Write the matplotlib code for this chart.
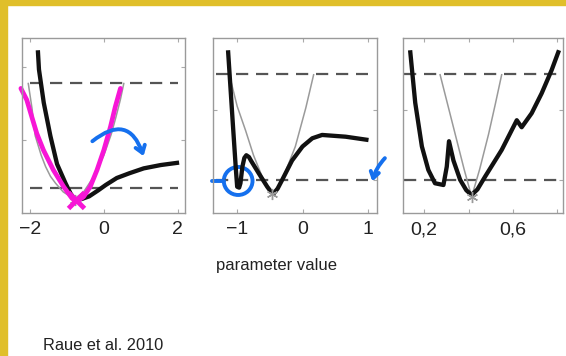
import matplotlib
matplotlib.use("Agg")
import matplotlib.pyplot as plt
from matplotlib.patches import Ellipse, Rectangle

plt.rcParams["font.family"] = ["Liberation Sans", "DejaVu Sans"]

# profile likelihood (black), parabolic approximation (gray), thresholds (dashed)
p1_prof_x = [-1.79, -1.76, -1.63, -1.45, -1.27, -1.04, -0.9, -0.78, -0.6, -0.4,
             -0.15, 0.05, 0.35, 0.69, 1.08, 1.54, 2.04]
p1_prof_y = [0.93, 0.82, 0.63, 0.44, 0.28, 0.17, 0.11, 0.075, 0.08, 0.095,
             0.13, 0.16, 0.2, 0.227, 0.255, 0.274, 0.288]
p1_appr_x = [-2.05, -1.95, -1.86, -1.7, -1.58, -1.45, -1.31, -1.1, -0.8, -0.55,
             -0.3, 0.0, 0.2, 0.33, 0.45, 0.54]
p1_appr_y = [0.74, 0.6, 0.44, 0.33, 0.265, 0.21, 0.17, 0.12, 0.08, 0.12,
             0.2, 0.33, 0.45, 0.55, 0.65, 0.74]

p2_prof_x = [-1.14, -1.07, -1.02, -1.0, -0.97, -0.95, -0.92, -0.89, -0.86, -0.82,
             -0.79, -0.67, -0.54, -0.48, -0.44, -0.38, -0.31, -0.16, 0.0, 0.15,
             0.30, 0.66, 1.01]
p2_prof_y = [0.93, 0.53, 0.25, 0.15, 0.145, 0.17, 0.265, 0.315, 0.33, 0.32,
             0.30, 0.227, 0.15, 0.12, 0.112, 0.14, 0.19, 0.30, 0.38, 0.427,
             0.446, 0.436, 0.417]
p2_appr_x = [-1.12, -1.0, -0.87, -0.75, -0.62, -0.46, -0.32, -0.11, 0.05, 0.17]
p2_appr_y = [0.79, 0.61, 0.47, 0.33, 0.21, 0.11, 0.18, 0.38, 0.6, 0.79]

p3_prof_x = [0.137, 0.16, 0.19, 0.219, 0.249, 0.287, 0.302, 0.312, 0.332, 0.362,
             0.39, 0.414, 0.44, 0.474, 0.549, 0.617, 0.639, 0.684, 0.729, 0.774,
             0.807]
p3_prof_y = [0.93, 0.63, 0.38, 0.246, 0.17, 0.16, 0.265, 0.41, 0.30, 0.19,
             0.13, 0.103, 0.135, 0.207, 0.36, 0.53, 0.49, 0.57, 0.684, 0.817,
             0.93]
p3_appr_x = [0.272, 0.30, 0.34, 0.38, 0.414, 0.45, 0.49, 0.52, 0.549]
p3_appr_y = [0.79, 0.65, 0.45, 0.25, 0.093, 0.25, 0.45, 0.62, 0.79]

best_fit = [(-0.78, 0.075), (-0.46, 0.11), (0.414, 0.093)]
thresholds = [(0.143, 0.743), (0.189, 0.794), (0.189, 0.794)]
scan_range = [(-2.0, 2.0), (-1.33, 1.0), (0.11, 0.8)]
xlims = [(-2.22, 2.2), (-1.37, 1.14), (0.105, 0.825)]
xticks = [[-2, 0, 2], [-1, 0, 1], [0.2, 0.4, 0.6, 0.8]]
xticklabels = [["\u22122", "0", "2"], ["\u22121", "0", "1"], ["0,2", "", "0,6", ""]]
yticks = [[0.417, 0.834], [0.19, 0.59], [0.19, 0.59]]

# hand-drawn annotations on the slide
pink_x = [-2.25, -2.09, -1.955, -1.82, -1.64, -1.37, -1.09, -0.865, -0.73,
          -0.55, -0.37, -0.185, 0.0, 0.18, 0.31, 0.45]
pink_y = [0.712, 0.646, 0.55, 0.455, 0.36, 0.246, 0.15, 0.084, 0.065,
          0.093, 0.15, 0.246, 0.36, 0.493, 0.607, 0.712]

BLUE = "#1570ee"
PINK = "#f716d6"
YELLOW = "#e0bf2a"

fig = plt.figure(figsize=(5.66, 3.56), dpi=100)
fig.patch.set_facecolor("white")

boxes = [(22, 163), (213, 164), (403, 160)]
profs = [(p1_prof_x, p1_prof_y), (p2_prof_x, p2_prof_y), (p3_prof_x, p3_prof_y)]
apprs = [(p1_appr_x, p1_appr_y), (p2_appr_x, p2_appr_y), (p3_appr_x, p3_appr_y)]

axes = []
for i in range(3):
    left, width = boxes[i]
    ax = fig.add_axes([left / 566, 1 - 213 / 356, width / 566, 175 / 356])
    axes.append(ax)
    lo, hi = thresholds[i]
    for th in (lo, hi):
        ax.hlines(th, *scan_range[i], colors="#555555", lw=1.6,
                  linestyles=(0, (5.5, 3.5)))
    ax.plot(*apprs[i], color="#9a9a9a", lw=1.1)
    ax.plot(*profs[i], color="#111111", lw=3.1, solid_joinstyle="round",
            solid_capstyle="butt")
    bx, by = best_fit[i]
    ax.plot(bx, by, marker=(6, 2, 0), ms=8, mew=1.0, color="#9a9a9a")
    ax.set_xlim(*xlims[i])
    ax.set_ylim(0, 1)
    ax.set_xticks(xticks[i])
    ax.set_xticklabels(xticklabels[i], fontsize=14, color="#222222")
    ax.set_yticks(yticks[i])
    ax.set_yticklabels([])
    ax.tick_params(direction="in", length=3, width=0.8, color="#aaaaaa",
                   top=True, right=True, pad=6)
    for s in ax.spines.values():
        s.set_color("#9a9a9a")
        s.set_linewidth(1.0)

# annotations, panel 1
ax1, ax2, ax3 = axes
ax1.plot(pink_x, pink_y, color=PINK, lw=3.4, solid_capstyle="round",
         solid_joinstyle="round", clip_on=False)
ax1.plot(-0.76, 0.075, marker="x", ms=12, mew=3.5, color=PINK, clip_on=False)
ax1.annotate("", xy=(1.1, 0.31), xytext=(-0.37, 0.40),
             arrowprops=dict(arrowstyle="->,head_length=0.5,head_width=0.35",
                             connectionstyle="arc3,rad=-0.75",
                             color=BLUE, lw=2.8, capstyle="round"))

# annotations, panel 2
ax2.add_patch(Ellipse((-0.985, 0.183), 0.44, 0.16, fill=False, ec=BLUE,
                      lw=2.8, clip_on=False))
ax2.plot([-1.38, -1.2], [0.182, 0.182], color=BLUE, lw=2.8,
         solid_capstyle="round", clip_on=False)
ax2.annotate("", xy=(1.06, 0.165), xytext=(1.29, 0.325),
             annotation_clip=False,
             arrowprops=dict(arrowstyle="->,head_length=0.45,head_width=0.3",
                             connectionstyle="arc3,rad=0.15",
                             color=BLUE, lw=2.8))

fig.text(276.7 / 566, 1 - 270 / 356, "parameter value", ha="center",
         va="baseline", fontsize=12, color="#222222")
fig.text(43 / 566, 1 - 350 / 356, "Raue et al. 2010", ha="left",
         va="baseline", fontsize=11.8, color="#222222")

# yellow slide border
fig.patches.append(Rectangle((0, 0), 7 / 566, 1, transform=fig.transFigure,
                             color=YELLOW, zorder=10))
fig.patches.append(Rectangle((0, 1 - 5 / 356), 1, 5 / 356,
                             transform=fig.transFigure, color=YELLOW, zorder=10))

fig.savefig("out.png", dpi=100)
